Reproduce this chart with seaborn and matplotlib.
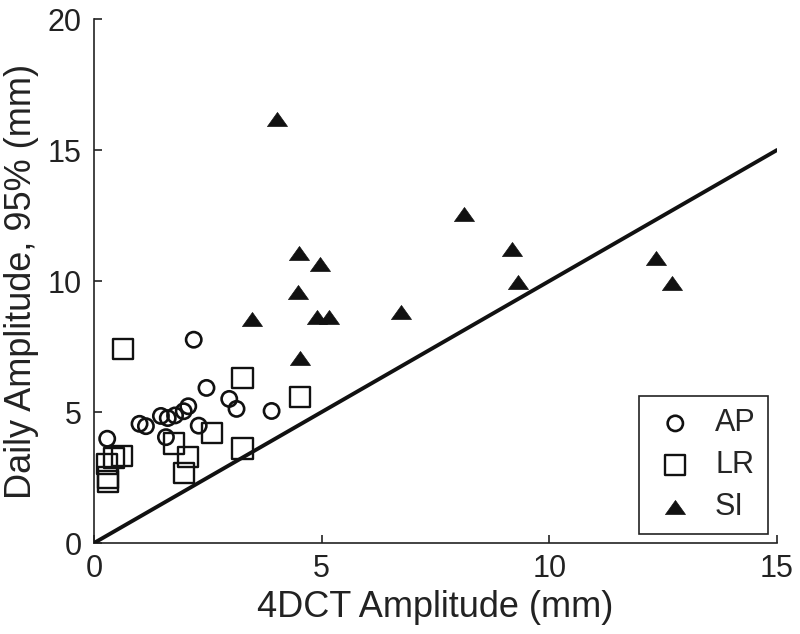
import numpy as np
import pandas as pd
import matplotlib
matplotlib.use('Agg')
import matplotlib.pyplot as plt
import seaborn as sns

# AP (circles)
ap_x = [0.29, 1.00, 1.14, 1.47, 1.62, 1.78, 1.97, 2.07, 2.30, 1.58, 2.47, 2.97, 3.13, 3.90, 2.19]
ap_y = [3.98, 4.55, 4.46, 4.85, 4.77, 4.87, 5.03, 5.22, 4.48, 4.04, 5.92, 5.50, 5.12, 5.04, 7.76]

# LR (squares)
lr_x = [0.64, 3.26, 4.52, 2.60, 3.26, 1.75, 2.07, 1.97, 0.62, 0.44, 0.29, 0.31, 0.31]
lr_y = [7.39, 6.31, 5.58, 4.19, 3.61, 3.80, 3.29, 2.68, 3.33, 3.25, 3.00, 2.50, 2.35]

# SI (filled triangles)
si_x = [4.01, 8.12, 9.17, 9.31, 4.50, 4.97, 4.47, 6.75, 4.90, 5.15, 3.47, 4.53, 12.34, 12.69]
si_y = [16.19, 12.55, 11.21, 9.97, 11.06, 10.65, 9.57, 8.83, 8.64, 8.61, 8.54, 7.05, 10.87, 9.94]

identity = [0, 15]

sns.set_style('ticks')
plt.rcParams['font.family'] = ['Liberation Sans', 'DejaVu Sans']
plt.rcParams['axes.edgecolor'] = '#222222'
plt.rcParams['axes.linewidth'] = 1.2

fig = plt.figure(figsize=(8, 6.34), dpi=100)
ax = fig.add_axes([0.1175, 0.1435, 0.8538, 0.8265])

tri = [(-1, -0.7), (1, -0.7), (0, 0.7), (-1, -0.7)]

sns.scatterplot(x=ap_x, y=ap_y, marker='o', s=11**2, facecolor='none',
                edgecolor='#111111', linewidth=1.9, label='AP', ax=ax, zorder=2)
sns.scatterplot(x=lr_x, y=lr_y, marker='s', s=14.5**2, facecolor='none',
                edgecolor='#111111', linewidth=1.7, label='LR', ax=ax, zorder=2)
sns.scatterplot(x=si_x, y=si_y, marker=tri, s=14.4**2, facecolor='#111111',
                edgecolor='#111111', linewidth=0.5, label='SI', ax=ax, zorder=2)

sns.lineplot(x=identity, y=identity, color='#111111', linewidth=2.8,
             legend=False, ax=ax, zorder=3)

ax.set_xlim(0, 15)
ax.set_ylim(0, 20)
ax.set_xticks([0, 5, 10, 15])
ax.set_yticks([0, 5, 10, 15, 20])
ax.tick_params(direction='in', length=6, width=1.2, labelsize=22, colors='#222222')
ax.tick_params(axis='x', pad=8)
ax.tick_params(axis='y', pad=9)
sns.despine(ax=ax)

ax.set_xlabel('4DCT Amplitude (mm)', fontsize=26, color='#222222', labelpad=4)
ax.set_ylabel('Daily Amplitude, 95% (mm)', fontsize=26, color='#222222', labelpad=6)

leg = ax.legend(loc='lower right', fontsize=22, frameon=True, fancybox=False,
                edgecolor='#222222', handlelength=1.6, handletextpad=0.5,
                borderaxespad=0.3, labelspacing=0.38, borderpad=0.4)
leg.get_frame().set_linewidth(1.2)
leg.get_frame().set_alpha(1)

fig.savefig('out.png', dpi=100)
